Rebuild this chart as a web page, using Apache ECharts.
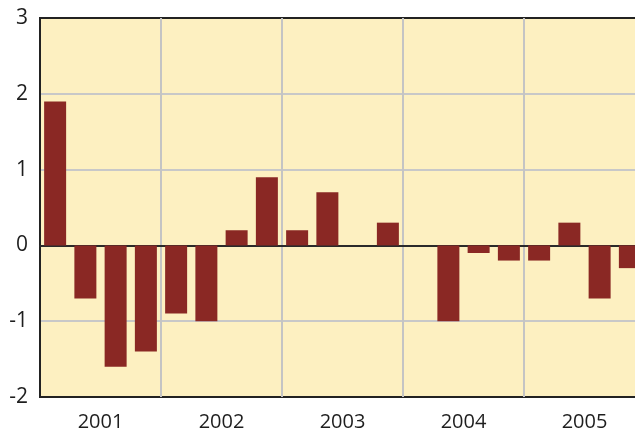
<!DOCTYPE html>
<html>
<head>
<meta charset="utf-8">
<script src="https://cdn.jsdelivr.net/npm/echarts@6/dist/echarts.min.js"></script>
<style>
  html, body { margin: 0; padding: 0; background: #fff; }
  #main { width: 635px; height: 429px; }
</style>
</head>
<body>
<div id="main"></div>
<script>
// quarters 2001 Q1 .. 2005 Q4
var quarters = ['2001Q1','2001Q2','2001Q3','2001Q4','2002Q1','2002Q2','2002Q3','2002Q4',
    '2003Q1','2003Q2','2003Q3','2003Q4','2004Q1','2004Q2','2004Q3','2004Q4',
    '2005Q1','2005Q2','2005Q3','2005Q4'];
var values = [1.9, -0.7, -1.6, -1.4, -0.9, -1.0, 0.2, 0.9,
    0.2, 0.7, 0, 0.3, 0, -1.0, -0.1, -0.2,
    -0.2, 0.3, -0.7, -0.3];
var years = ['2001', '2002', '2003', '2004', '2005'];

var myChart = echarts.init(document.getElementById('main'));

var font = '"Open Sans", "DejaVu Sans", sans-serif';

var option = {
    animation: false,
    grid: {
        // last year runs past the right edge of the picture
        left: 40, top: 18, bottom: 32, width: 605,
        outerBoundsMode: 'none',
        containLabel: false,
        show: true,
        backgroundColor: '#fdf0c1',
        borderColor: '#222',
        borderWidth: 2
    },
    xAxis: [
        {
            // quarters, only used for the bars and the zero line
            type: 'category',
            position: 'top',
            data: quarters,
            axisLine: { show: true, onZero: true, lineStyle: { color: '#2a2a2a', width: 2 } },
            axisTick: { show: false },
            axisLabel: { show: false },
            splitLine: { show: false }
        },
        {
            type: 'category',
            position: 'bottom',
            data: years,
            axisLine: { show: false, onZero: false },
            axisTick: { show: false },
            axisLabel: { color: '#1e1e1e', fontSize: 20, fontFamily: font, margin: 15 },
            splitLine: { show: true, showMinLine: false, showMaxLine: false,
                lineStyle: { color: '#c4c4c4', width: 2 } }
        }
    ],
    yAxis: {
        type: 'value',
        min: -2, max: 3, interval: 1,
        axisLine: { show: true, lineStyle: { color: '#222', width: 2 } },
        axisTick: { show: false },
        axisLabel: { color: '#1e1e1e', fontSize: 21, fontFamily: font, margin: 12 },
        splitLine: { show: true, showMinLine: false, showMaxLine: false,
            lineStyle: { color: '#c8c8c8', width: 2 } }
    },
    series: [
        {
            type: 'bar',
            xAxisIndex: 0,
            data: values,
            barWidth: 22,
            itemStyle: { color: '#8a2824' }
        }
    ]
};

myChart.setOption(option);
</script>
</body>
</html>
